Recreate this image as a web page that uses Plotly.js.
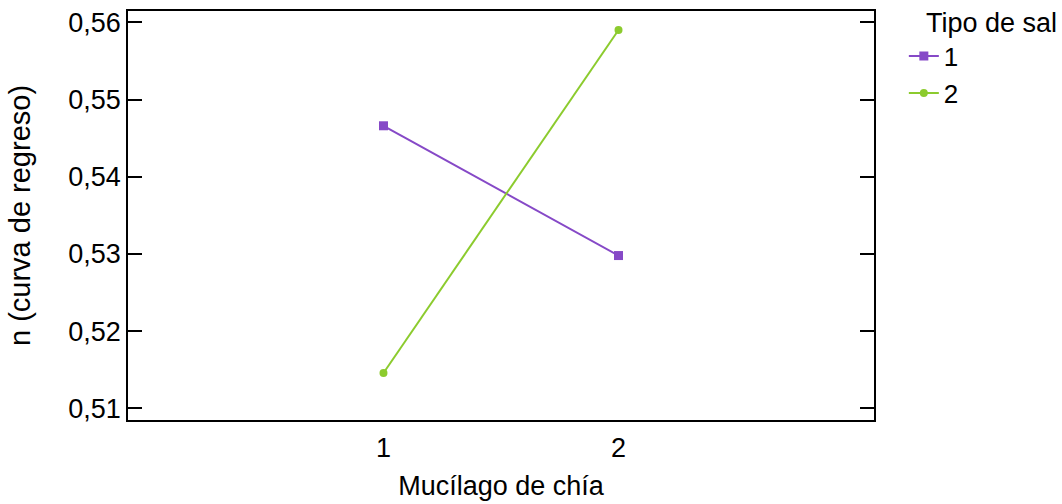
<!DOCTYPE html>
<html>
<head>
<meta charset="utf-8">
<script src="https://cdn.plot.ly/plotly-3.0.1.min.js"></script>
<style>html,body{margin:0;padding:0;background:#fff;}#chart{width:1062px;height:504px;}</style>
</head>
<body>
<div id="chart"></div>
<script>
const categories = [1, 2];
const seriesNames = ["1", "2"];
const series1 = [0.5466, 0.5298];
const series2 = [0.5146, 0.5590];
const yTickVals = [0.51, 0.52, 0.53, 0.54, 0.55, 0.56];
const yTickText = ["0,51", "0,52", "0,53", "0,54", "0,55", "0,56"];
const xTickVals = [1, 2];
const xTickText = ["1", "2"];

const font = "Liberation Sans, Arial, sans-serif";

const traces = [
  {x: categories, y: series1, name: seriesNames[0], type: "scatter", mode: "lines+markers",
   line: {color: "#8649C7", width: 2}, marker: {symbol: "square", size: 9, color: "#8649C7"}},
  {x: categories, y: series2, name: seriesNames[1], type: "scatter", mode: "lines+markers",
   line: {color: "#8CCB2E", width: 2}, marker: {symbol: "circle", size: 8, color: "#8CCB2E"}}
];

const layout = {
  width: 1062, height: 504,
  margin: {l: 128, r: 188, t: 11, b: 84},
  paper_bgcolor: "#fff", plot_bgcolor: "#fff",
  font: {family: font, size: 27, color: "#000"},
  showlegend: true,
  xaxis: {
    range: [-0.087, 3.087], tickvals: xTickVals, ticktext: xTickText,
    showgrid: false, zeroline: false, showline: true, linecolor: "#000", linewidth: 1.5,
    mirror: true, ticks: "", tickfont: {size: 27}, ticklabelstandoff: 3,
    title: {text: "Mucílago de chía", font: {size: 27}, standoff: 14}
  },
  yaxis: {
    range: [0.50851, 0.56146], tickvals: yTickVals, ticktext: yTickText,
    showgrid: false, zeroline: false, showline: true, linecolor: "#000", linewidth: 1.5,
    mirror: "ticks", ticks: "inside", ticklen: 14, tickwidth: 1.5, tickcolor: "#000",
    tickfont: {size: 27},
    title: {text: "n (curva de regreso)", font: {size: 29}, standoff: 29}
  },
  legend: {
    x: 1.04, xanchor: "left", xref: "paper", y: 0.947, yanchor: "top",
    bgcolor: "rgba(0,0,0,0)", borderwidth: 0, font: {size: 26},
    tracegroupgap: 0
  },
  annotations: [
    {text: "Tipo de sal", xref: "paper", yref: "paper", x: 1.067, y: 1.012, xanchor: "left", yanchor: "top",
     showarrow: false, font: {size: 27, family: font}}
  ]
};

Plotly.newPlot("chart", traces, layout, {displayModeBar: false, responsive: false});
</script>
</body>
</html>
